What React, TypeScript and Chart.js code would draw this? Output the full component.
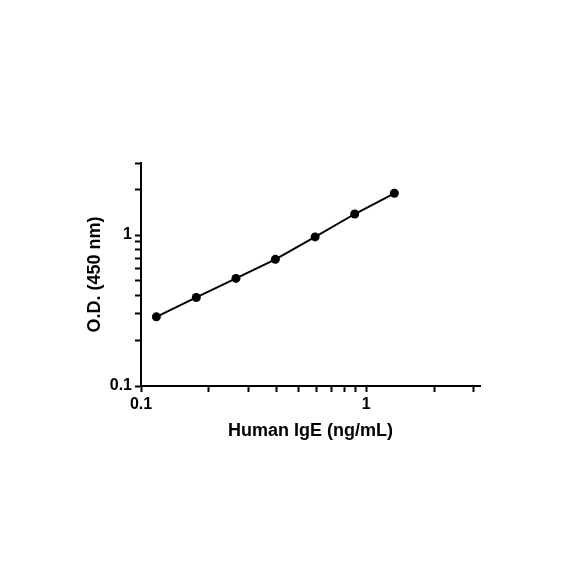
import React, { useEffect, useRef } from 'react';
import { Chart, registerables } from 'chart.js';

Chart.register(...registerables);

// Data (log-log standard curve)
const concentrations = [0.117, 0.176, 0.264, 0.395, 0.593, 0.889, 1.333];
const odValues = [0.287, 0.386, 0.516, 0.69, 0.972, 1.378, 1.89];
const xLabelledTicks = [0.1, 1];
const yLabelledTicks = [0.1, 1];
const xMin = 0.1;
const xMax = 3.2;
const yMin = 0.1;
const yMax = 3;
const xTitle = 'Human IgE (ng/mL)';
const yTitle = 'O.D. (450 nm)';

const FONT = '"Liberation Sans", Arial, Helvetica, sans-serif';

function near(a: number, b: number) {
  return Math.abs(a - b) < 1e-9 * Math.max(1, Math.abs(b));
}

function labelFor(list: number[]) {
  return (value: number | string) => {
    const v = Number(value);
    const hit = list.find((t) => near(v, t));
    return hit === undefined ? '' : String(hit);
  };
}

function tickColor(ctx: any) {
  const v = ctx?.tick?.value;
  if (v == null) return '#000';
  const e = Math.floor(Math.log10(v) + 1e-9);
  const s = v / Math.pow(10, e);
  return Math.abs(s - Math.round(s)) < 1e-6 ? '#000' : 'rgba(0,0,0,0)';
}

export default function App() {
  const ref = useRef<HTMLCanvasElement | null>(null);

  useEffect(() => {
    if (!ref.current) return;
    const chart = new Chart(ref.current, {
      type: 'line',
      data: {
        datasets: [
          {
            data: concentrations.map((x, i) => ({ x, y: odValues[i] })),
            borderColor: '#000',
            backgroundColor: '#000',
            borderWidth: 2,
            pointRadius: 4.5,
            pointBackgroundColor: '#000',
            pointBorderColor: '#000',
            pointBorderWidth: 0,
            tension: 0,
            fill: false,
          },
        ],
      },
      options: {
        animation: false,
        responsive: false,
        maintainAspectRatio: false,
        layout: { padding: { left: 80, top: 163, right: 104, bottom: 138 } },
        plugins: { legend: { display: false }, tooltip: { enabled: false } },
        scales: {
          x: {
            type: 'logarithmic',
            min: xMin,
            max: xMax,
            afterFit: (s: any) => {
              s.height = 60;
            },
            border: { display: true, color: '#000', width: 2 },
            grid: {
              display: true,
              drawOnChartArea: false,
              drawTicks: true,
              tickLength: 6,
              tickWidth: 2,
              tickColor: tickColor,
            },
            ticks: {
              autoSkip: false,
              maxRotation: 0,
              padding: 3,
              color: '#000',
              font: { family: FONT, size: 16, weight: 'bold' },
              callback: labelFor(xLabelledTicks),
            },
            title: {
              display: true,
              text: xTitle,
              color: '#000',
              font: { family: FONT, size: 18, weight: 'bold' },
            },
          },
          y: {
            type: 'logarithmic',
            min: yMin,
            max: yMax,
            afterFit: (s: any) => {
              s.width = 61;
            },
            border: { display: true, color: '#000', width: 2 },
            grid: {
              display: true,
              drawOnChartArea: false,
              drawTicks: true,
              tickLength: 6,
              tickWidth: 2,
              tickColor: tickColor,
            },
            ticks: {
              autoSkip: false,
              padding: 3,
              color: '#000',
              font: { family: FONT, size: 16, weight: 'bold' },
              callback: labelFor(yLabelledTicks),
            },
            title: {
              display: true,
              text: yTitle,
              color: '#000',
              font: { family: FONT, size: 18, weight: 'bold' },
            },
          },
        },
      },
    } as any);
    return () => chart.destroy();
  }, []);

  return (
    <div style={{ position: 'absolute', left: 0, top: 0, width: 584, height: 584, background: '#fff' }}>
      <canvas ref={ref} width={584} height={584} style={{ width: 584, height: 584, display: 'block' }} />
    </div>
  );
}
